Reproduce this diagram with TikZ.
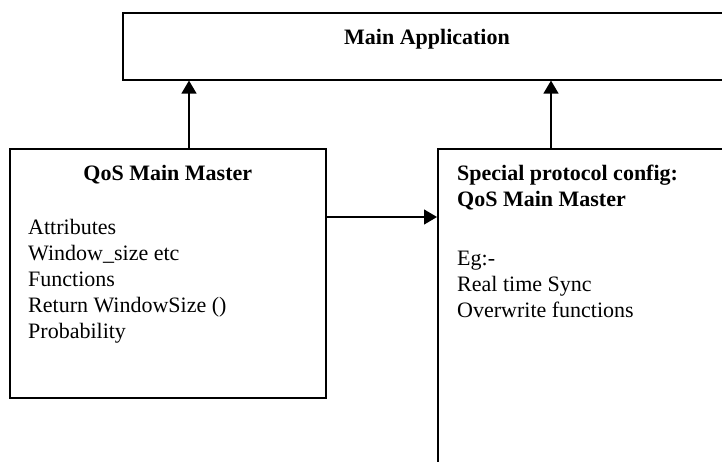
\documentclass[tikz,border=0pt]{standalone}
\usepackage{fontspec}
\setmainfont{Liberation Serif}
\usetikzlibrary{arrows.meta,positioning}

\tikzset{
  box/.style={draw, rectangle, line width=1.6pt, anchor=north west, inner sep=0pt},
  arr/.style={line width=1.3pt, -{Triangle[length=13pt,width=15pt]}},
  headtext/.style={font=\fontsize{22}{26}\selectfont\bfseries, inner sep=0pt, align=left},
  bodytext/.style={font=\fontsize{22}{26}\selectfont, inner sep=0pt, align=left},
}

\begin{document}
\begin{tikzpicture}[x=1pt,y=-1pt]
    \useasboundingbox (0,0) rectangle (722,461);
    \clip (0,0) rectangle (722,461);

    % the three boxes, the right hand ones run off the page
    \node[box, minimum width=660pt, minimum height=67pt] (mainapp) at (122,12) {};
    \node[box, minimum width=316pt, minimum height=249pt] (qos) at (9,148) {};
    \node[box, minimum width=360pt, minimum height=360pt] (special) at (437,148) {};

    \node[headtext, anchor=base] (maintitle) at (427,44) {Main Application};

    \node[headtext, anchor=base] (qostitle) at ([yshift=-32pt]qos.north) {QoS Main Master};
    \node[bodytext, anchor=north west] (qoslist) at ([xshift=19pt, yshift=-71pt]qos.north west)
        {Attributes\\Window\_size etc\\Functions\\Return WindowSize ()\\Probability};

    \node[headtext, anchor=north west] (specialtitle) at ([xshift=20pt, yshift=-17pt]special.north west)
        {Special protocol config:\\QoS Main Master};
    \node[bodytext, anchor=north west] (speciallist) at ([xshift=20pt, yshift=-103pt]special.north west)
        {Eg:-\\Real time Sync\\Overwrite functions};

    % connectors
    \coordinate (qosup) at (189,148);
    \coordinate (specialup) at (551,148);
    \draw[arr] (qosup) -- (qosup |- mainapp.south);
    \draw[arr] (specialup) -- (specialup |- mainapp.south);
    \draw[arr] ([yshift=-69pt]qos.north east) -- ([yshift=-69pt]special.north west);
\end{tikzpicture}
\end{document}
